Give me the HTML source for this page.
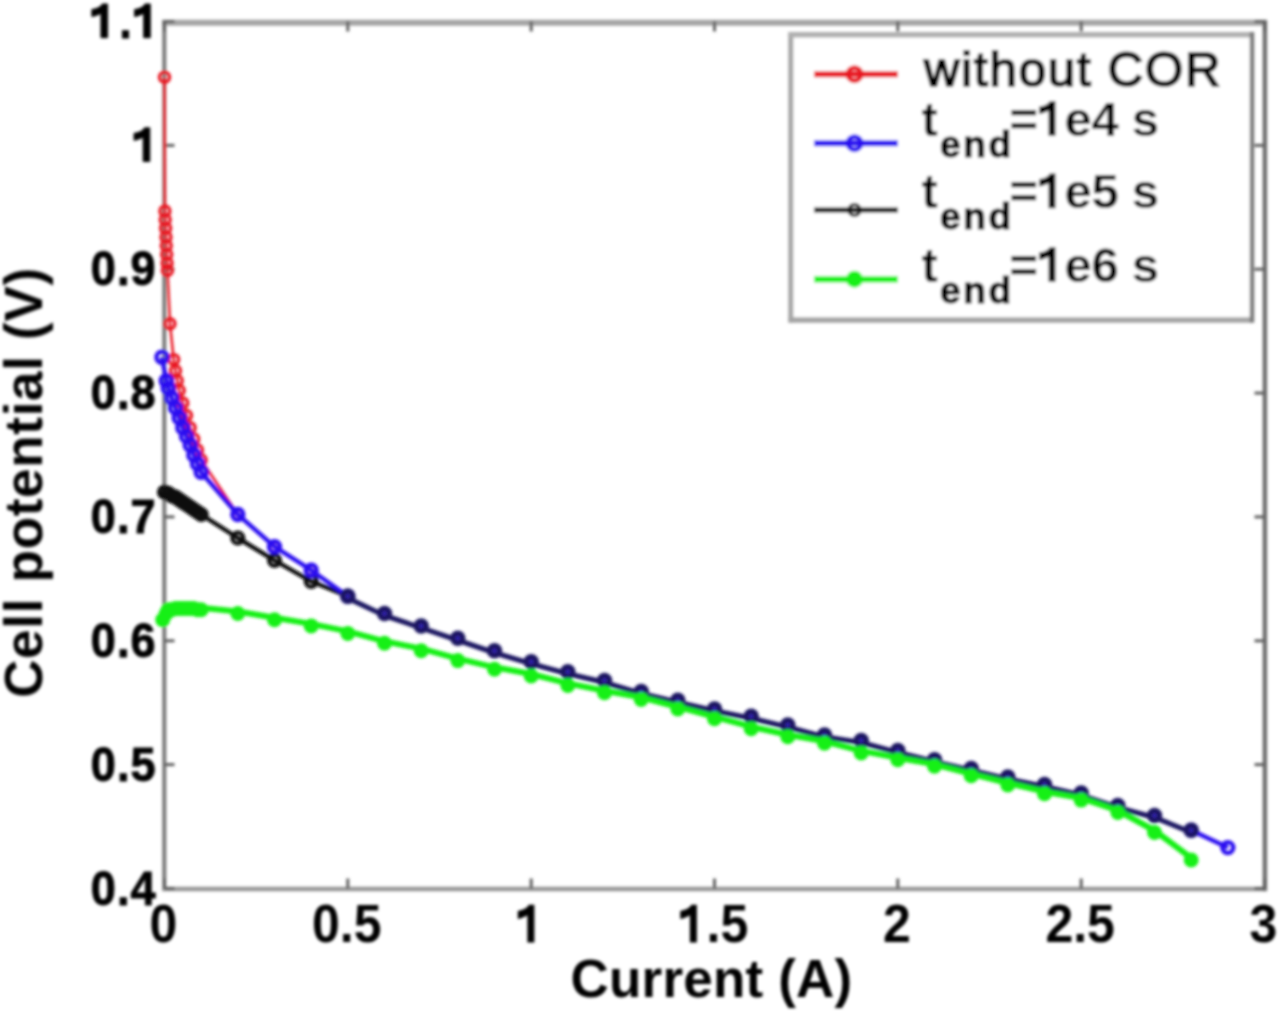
<!DOCTYPE html>
<html><head><meta charset="utf-8"><style>
html,body{margin:0;padding:0;background:#fff;}
body{width:1280px;height:1011px;overflow:hidden;}
svg{display:block;}
</style></head><body>
<svg width="1280" height="1011" viewBox="0 0 1280 1011">
<defs><filter id="bl" x="-5%" y="-5%" width="110%" height="110%"><feGaussianBlur stdDeviation="1.5"/></filter></defs>
<rect width="1280" height="1011" fill="#fff"/>
<g filter="url(#bl)">
<line x1="162" y1="22.8" x2="1267" y2="22.8" stroke="#a4a4a4" stroke-width="6"/>
<line x1="164.3" y1="20" x2="164.3" y2="891" stroke="#787878" stroke-width="4"/>
<line x1="162" y1="889" x2="1267" y2="889" stroke="#989898" stroke-width="4.5"/>
<line x1="1264.9" y1="20" x2="1264.9" y2="891" stroke="#6e6e6e" stroke-width="4.5"/>
<g stroke="#606060" stroke-width="3"><line x1="164.5" y1="888.5" x2="164.5" y2="878.5"/><line x1="164.5" y1="21.5" x2="164.5" y2="31.5"/><line x1="347.8" y1="888.5" x2="347.8" y2="878.5"/><line x1="347.8" y1="21.5" x2="347.8" y2="31.5"/><line x1="531.2" y1="888.5" x2="531.2" y2="878.5"/><line x1="531.2" y1="21.5" x2="531.2" y2="31.5"/><line x1="714.5" y1="888.5" x2="714.5" y2="878.5"/><line x1="714.5" y1="21.5" x2="714.5" y2="31.5"/><line x1="897.8" y1="888.5" x2="897.8" y2="878.5"/><line x1="897.8" y1="21.5" x2="897.8" y2="31.5"/><line x1="1081.2" y1="888.5" x2="1081.2" y2="878.5"/><line x1="1081.2" y1="21.5" x2="1081.2" y2="31.5"/><line x1="1264.5" y1="888.5" x2="1264.5" y2="878.5"/><line x1="1264.5" y1="21.5" x2="1264.5" y2="31.5"/><line x1="164.5" y1="888.5" x2="174.5" y2="888.5"/><line x1="1264.5" y1="888.5" x2="1254.5" y2="888.5"/><line x1="164.5" y1="764.6" x2="174.5" y2="764.6"/><line x1="1264.5" y1="764.6" x2="1254.5" y2="764.6"/><line x1="164.5" y1="640.8" x2="174.5" y2="640.8"/><line x1="1264.5" y1="640.8" x2="1254.5" y2="640.8"/><line x1="164.5" y1="516.9" x2="174.5" y2="516.9"/><line x1="1264.5" y1="516.9" x2="1254.5" y2="516.9"/><line x1="164.5" y1="393.1" x2="174.5" y2="393.1"/><line x1="1264.5" y1="393.1" x2="1254.5" y2="393.1"/><line x1="164.5" y1="269.2" x2="174.5" y2="269.2"/><line x1="1264.5" y1="269.2" x2="1254.5" y2="269.2"/><line x1="164.5" y1="145.4" x2="174.5" y2="145.4"/><line x1="1264.5" y1="145.4" x2="1254.5" y2="145.4"/><line x1="164.5" y1="21.5" x2="174.5" y2="21.5"/><line x1="1264.5" y1="21.5" x2="1254.5" y2="21.5"/></g>
<path d="M164.5 77.2 L164.9 211.0 L165.2 219.7 L165.6 228.3 L166.0 237.0 L166.3 245.7 L166.7 254.4 L167.1 263.0 L167.4 270.5 L170.0 323.7 L173.7 359.6 L175.5 370.8 L177.3 380.7 L179.2 390.6 L182.8 403.0 L186.5 415.4 L190.2 427.8 L193.8 438.9 L197.5 450.0 L201.2 460.0 L237.8 514.5 L274.5 546.7 L311.2 570.2 L347.8 596.2" fill="none" stroke="#e81420" stroke-width="2.6" stroke-linejoin="round"/><g fill="none" stroke="#e81420" stroke-width="3.4"><circle cx="164.5" cy="77.2" r="5"/><circle cx="164.9" cy="211.0" r="5"/><circle cx="165.2" cy="219.7" r="5"/><circle cx="165.6" cy="228.3" r="5"/><circle cx="166.0" cy="237.0" r="5"/><circle cx="166.3" cy="245.7" r="5"/><circle cx="166.7" cy="254.4" r="5"/><circle cx="167.1" cy="263.0" r="5"/><circle cx="167.4" cy="270.5" r="5"/><circle cx="170.0" cy="323.7" r="5"/><circle cx="173.7" cy="359.6" r="5"/><circle cx="175.5" cy="370.8" r="5"/><circle cx="177.3" cy="380.7" r="5"/><circle cx="179.2" cy="390.6" r="5"/><circle cx="182.8" cy="403.0" r="5"/><circle cx="186.5" cy="415.4" r="5"/><circle cx="190.2" cy="427.8" r="5"/><circle cx="193.8" cy="438.9" r="5"/><circle cx="197.5" cy="450.0" r="5"/><circle cx="201.2" cy="460.0" r="5"/><circle cx="237.8" cy="514.5" r="5"/><circle cx="274.5" cy="546.7" r="5"/><circle cx="311.2" cy="570.2" r="5"/><circle cx="347.8" cy="596.2" r="5"/></g><path d="M164.5 492.2 L168.2 493.4 L171.8 495.9 L175.5 497.1 L179.2 499.6 L182.8 502.1 L186.5 504.5 L190.2 507.0 L193.8 509.5 L197.5 512.0 L201.2 514.5 L237.8 538.0 L274.5 560.3 L311.2 581.3 L347.8 596.2" fill="none" stroke="#101010" stroke-width="4.4" stroke-linejoin="round"/><g fill="none" stroke="#101010" stroke-width="4.2"><circle cx="164.5" cy="492.2" r="5.5"/><circle cx="168.2" cy="493.4" r="5.5"/><circle cx="171.8" cy="495.9" r="5.5"/><circle cx="175.5" cy="497.1" r="5.5"/><circle cx="179.2" cy="499.6" r="5.5"/><circle cx="182.8" cy="502.1" r="5.5"/><circle cx="186.5" cy="504.5" r="5.5"/><circle cx="190.2" cy="507.0" r="5.5"/><circle cx="193.8" cy="509.5" r="5.5"/><circle cx="197.5" cy="512.0" r="5.5"/><circle cx="201.2" cy="514.5" r="5.5"/><circle cx="237.8" cy="538.0" r="5.5"/><circle cx="274.5" cy="560.3" r="5.5"/><circle cx="311.2" cy="581.3" r="5.5"/><circle cx="347.8" cy="596.2" r="5.5"/></g><path d="M161.9 357.2 L166.3 380.7 L168.2 388.1 L171.8 398.0 L175.5 407.9 L179.2 417.8 L182.8 427.8 L186.5 436.4 L190.2 445.1 L193.8 455.0 L197.5 463.7 L201.2 472.3 L237.8 514.5 L274.5 546.7 L311.2 570.2 L347.8 596.2" fill="none" stroke="#2a10f0" stroke-width="4.4" stroke-linejoin="round"/><g fill="none" stroke="#2a10f0" stroke-width="4.4"><circle cx="161.9" cy="357.2" r="5.5"/><circle cx="166.3" cy="380.7" r="5.5"/><circle cx="168.2" cy="388.1" r="5.5"/><circle cx="171.8" cy="398.0" r="5.5"/><circle cx="175.5" cy="407.9" r="5.5"/><circle cx="179.2" cy="417.8" r="5.5"/><circle cx="182.8" cy="427.8" r="5.5"/><circle cx="186.5" cy="436.4" r="5.5"/><circle cx="190.2" cy="445.1" r="5.5"/><circle cx="193.8" cy="455.0" r="5.5"/><circle cx="197.5" cy="463.7" r="5.5"/><circle cx="201.2" cy="472.3" r="5.5"/><circle cx="237.8" cy="514.5" r="5.5"/><circle cx="274.5" cy="546.7" r="5.5"/><circle cx="311.2" cy="570.2" r="5.5"/><circle cx="347.8" cy="596.2" r="5.5"/></g><path d="M1191.2 830.3 L1227.8 847.6" fill="none" stroke="#2a10f0" stroke-width="4.4" stroke-linejoin="round"/><g fill="none" stroke="#2a10f0" stroke-width="4.4"><circle cx="1191.2" cy="830.3" r="5.5"/><circle cx="1227.8" cy="847.6" r="5.5"/></g><path d="M347.8 598.2 L384.5 615.5 L421.2 627.9 L457.8 640.3 L494.5 652.7 L531.2 663.8 L567.8 673.8 L604.5 682.4 L641.2 693.6 L677.8 702.2 L714.5 710.9 L751.2 718.3 L787.8 727.0 L824.5 736.9 L861.2 742.5 L897.8 752.4 L934.5 761.7 L971.2 770.4 L1007.8 779.0 L1044.5 786.5 L1081.2 795.1 L1117.8 807.5 L1154.5 817.4 L1191.2 832.3" fill="none" stroke="#1c1462" stroke-width="5.2" stroke-linejoin="round"/><g fill="#3324b0" stroke="#1c1462" stroke-width="5.5"><circle cx="347.8" cy="596.2" r="5"/><circle cx="384.5" cy="613.5" r="5"/><circle cx="421.2" cy="625.9" r="5"/><circle cx="457.8" cy="638.3" r="5"/><circle cx="494.5" cy="650.7" r="5"/><circle cx="531.2" cy="661.8" r="5"/><circle cx="567.8" cy="671.8" r="5"/><circle cx="604.5" cy="680.4" r="5"/><circle cx="641.2" cy="691.6" r="5"/><circle cx="677.8" cy="700.2" r="5"/><circle cx="714.5" cy="708.9" r="5"/><circle cx="751.2" cy="716.3" r="5"/><circle cx="787.8" cy="725.0" r="5"/><circle cx="824.5" cy="734.9" r="5"/><circle cx="861.2" cy="740.5" r="5"/><circle cx="897.8" cy="750.4" r="5"/><circle cx="934.5" cy="759.7" r="5"/><circle cx="971.2" cy="768.4" r="5"/><circle cx="1007.8" cy="777.0" r="5"/><circle cx="1044.5" cy="784.5" r="5"/><circle cx="1081.2" cy="793.1" r="5"/><circle cx="1117.8" cy="805.5" r="5"/><circle cx="1154.5" cy="815.4" r="5"/><circle cx="1191.2" cy="830.3" r="5"/></g><path d="M162.7 617.7 L166.3 611.5 L168.2 607.8 L171.8 607.8 L175.5 606.6 L179.2 606.6 L182.8 606.6 L186.5 606.6 L190.2 606.6 L193.8 606.6 L197.5 607.8 L201.2 607.8 L237.8 611.5 L274.5 617.7 L311.2 623.9 L347.8 631.4 L384.5 641.3 L421.2 648.7 L457.8 658.6 L494.5 667.3 L531.2 674.0 L567.8 683.4 L604.5 690.8 L641.2 697.4 L677.8 706.9 L714.5 716.8 L751.2 726.7 L787.8 734.8 L824.5 741.3 L861.2 750.9 L897.8 757.7 L934.5 764.3 L971.2 773.8 L1007.8 783.0 L1044.5 791.7 L1081.2 798.1 L1117.8 810.5 L1154.5 830.5 L1191.2 858.0" fill="none" stroke="#18f018" stroke-width="6" stroke-linejoin="round"/><g fill="#18f018" stroke="#18f018" stroke-width="4"><circle cx="162.7" cy="619.7" r="5.5"/><circle cx="166.3" cy="613.5" r="5.5"/><circle cx="168.2" cy="609.8" r="5.5"/><circle cx="171.8" cy="609.8" r="5.5"/><circle cx="175.5" cy="608.6" r="5.5"/><circle cx="179.2" cy="608.6" r="5.5"/><circle cx="182.8" cy="608.6" r="5.5"/><circle cx="186.5" cy="608.6" r="5.5"/><circle cx="190.2" cy="608.6" r="5.5"/><circle cx="193.8" cy="608.6" r="5.5"/><circle cx="197.5" cy="609.8" r="5.5"/><circle cx="201.2" cy="609.8" r="5.5"/><circle cx="237.8" cy="613.5" r="5.5"/><circle cx="274.5" cy="619.7" r="5.5"/><circle cx="311.2" cy="625.9" r="5.5"/><circle cx="347.8" cy="633.4" r="5.5"/><circle cx="384.5" cy="643.3" r="5.5"/><circle cx="421.2" cy="650.7" r="5.5"/><circle cx="457.8" cy="660.6" r="5.5"/><circle cx="494.5" cy="669.3" r="5.5"/><circle cx="531.2" cy="676.0" r="5.5"/><circle cx="567.8" cy="685.4" r="5.5"/><circle cx="604.5" cy="692.8" r="5.5"/><circle cx="641.2" cy="699.4" r="5.5"/><circle cx="677.8" cy="708.9" r="5.5"/><circle cx="714.5" cy="718.8" r="5.5"/><circle cx="751.2" cy="728.7" r="5.5"/><circle cx="787.8" cy="736.8" r="5.5"/><circle cx="824.5" cy="743.3" r="5.5"/><circle cx="861.2" cy="752.9" r="5.5"/><circle cx="897.8" cy="759.7" r="5.5"/><circle cx="934.5" cy="766.3" r="5.5"/><circle cx="971.2" cy="775.8" r="5.5"/><circle cx="1007.8" cy="785.0" r="5.5"/><circle cx="1044.5" cy="793.7" r="5.5"/><circle cx="1081.2" cy="800.1" r="5.5"/><circle cx="1117.8" cy="812.5" r="5.5"/><circle cx="1154.5" cy="832.5" r="5.5"/><circle cx="1191.2" cy="860.0" r="5.5"/></g>
<g font-family="Liberation Sans, sans-serif" font-weight="bold" font-size="50" fill="#000"><g transform="translate(0 942.5) scale(1 1.06) translate(0 -942.5)"><text x="149.60" y="942.50" font-size="50" >0</text></g><g transform="translate(0 942.5) scale(1 1.06) translate(0 -942.5)"><text x="312.08" y="942.50" font-size="50" >0</text><text x="339.88" y="942.50" font-size="50" >.</text><text x="353.78" y="942.50" font-size="50" >5</text></g><g transform="translate(0 942.5) scale(1 1.06) translate(0 -942.5)"><path d="M.362 0L.362 .710L.250 .710C.220 .650 .130 .605 .030 .595L.030 .445C.100 .455 .170 .480 .222 .515L.222 0Z" vector-effect="non-scaling-stroke" transform="translate(516.27 942.50) scale(50 -50)"/></g><g transform="translate(0 942.5) scale(1 1.06) translate(0 -942.5)"><path d="M.362 0L.362 .710L.250 .710C.220 .650 .130 .605 .030 .595L.030 .445C.100 .455 .170 .480 .222 .515L.222 0Z" vector-effect="non-scaling-stroke" transform="translate(678.75 942.50) scale(50 -50)"/><text x="706.55" y="942.50" font-size="50" >.</text><text x="720.45" y="942.50" font-size="50" >5</text></g><g transform="translate(0 942.5) scale(1 1.06) translate(0 -942.5)"><text x="882.93" y="942.50" font-size="50" >2</text></g><g transform="translate(0 942.5) scale(1 1.06) translate(0 -942.5)"><text x="1045.42" y="942.50" font-size="50" >2</text><text x="1073.22" y="942.50" font-size="50" >.</text><text x="1087.12" y="942.50" font-size="50" >5</text></g><g transform="translate(0 942.5) scale(1 1.06) translate(0 -942.5)"><text x="1249.60" y="942.50" font-size="50" >3</text></g><g stroke="#000" stroke-width="0.9"><text transform="translate(103.20 904.70) scale(0.95 1)" text-anchor="middle" font-size="47.5" >0</text><text transform="translate(123.20 904.70) scale(0.95 1)" text-anchor="middle" font-size="47.5" >.</text><text transform="translate(143.11 904.70) scale(0.95 1)" text-anchor="middle" font-size="47.5" >4</text></g><g stroke="#000" stroke-width="0.9"><text transform="translate(103.20 780.84) scale(0.95 1)" text-anchor="middle" font-size="47.5" >0</text><text transform="translate(123.20 780.84) scale(0.95 1)" text-anchor="middle" font-size="47.5" >.</text><text transform="translate(143.11 780.84) scale(0.95 1)" text-anchor="middle" font-size="47.5" >5</text></g><g stroke="#000" stroke-width="0.9"><text transform="translate(103.20 656.99) scale(0.95 1)" text-anchor="middle" font-size="47.5" >0</text><text transform="translate(123.20 656.99) scale(0.95 1)" text-anchor="middle" font-size="47.5" >.</text><text transform="translate(143.11 656.99) scale(0.95 1)" text-anchor="middle" font-size="47.5" >6</text></g><g stroke="#000" stroke-width="0.9"><text transform="translate(103.20 533.13) scale(0.95 1)" text-anchor="middle" font-size="47.5" >0</text><text transform="translate(123.20 533.13) scale(0.95 1)" text-anchor="middle" font-size="47.5" >.</text><text transform="translate(143.11 533.13) scale(0.95 1)" text-anchor="middle" font-size="47.5" >7</text></g><g stroke="#000" stroke-width="0.9"><text transform="translate(103.20 409.27) scale(0.95 1)" text-anchor="middle" font-size="47.5" >0</text><text transform="translate(123.20 409.27) scale(0.95 1)" text-anchor="middle" font-size="47.5" >.</text><text transform="translate(143.11 409.27) scale(0.95 1)" text-anchor="middle" font-size="47.5" >8</text></g><g stroke="#000" stroke-width="0.9"><text transform="translate(103.20 285.41) scale(0.95 1)" text-anchor="middle" font-size="47.5" >0</text><text transform="translate(123.20 285.41) scale(0.95 1)" text-anchor="middle" font-size="47.5" >.</text><text transform="translate(143.11 285.41) scale(0.95 1)" text-anchor="middle" font-size="47.5" >9</text></g><g stroke="#000" stroke-width="0.9"><path d="M.362 0L.362 .710L.250 .710C.220 .650 .130 .605 .030 .595L.030 .445C.100 .455 .170 .480 .222 .515L.222 0Z" vector-effect="non-scaling-stroke" transform="translate(132.59 161.56) scale(47.5 -47.5)"/></g><g stroke="#000" stroke-width="0.9"><path d="M.362 0L.362 .710L.250 .710C.220 .650 .130 .605 .030 .595L.030 .445C.100 .455 .170 .480 .222 .515L.222 0Z" vector-effect="non-scaling-stroke" transform="translate(90.40 37.70) scale(47.5 -47.5)"/><text transform="translate(125.48 37.70) scale(0.95 1)" text-anchor="middle" font-size="47.5" >.</text><path d="M.362 0L.362 .710L.250 .710C.220 .650 .130 .605 .030 .595L.030 .445C.100 .455 .170 .480 .222 .515L.222 0Z" vector-effect="non-scaling-stroke" transform="translate(133.12 37.70) scale(47.5 -47.5)"/></g></g>
<text font-family="Liberation Sans, sans-serif" font-weight="bold" font-size="53" fill="#000" x="711.5" y="997" text-anchor="middle" letter-spacing="0.2">Current (A)</text>
<text font-family="Liberation Sans, sans-serif" font-weight="bold" font-size="53" fill="#000" transform="translate(42,482.5) rotate(-90)" text-anchor="middle" letter-spacing="0.7">Cell potential (V)</text>
<rect x="790.8" y="34.8" width="461.2" height="285.2" fill="#fff"/><line x1="790.8" y1="32" x2="790.8" y2="322.5" stroke="#a6a6a6" stroke-width="5"/><line x1="788.5" y1="34.8" x2="1254" y2="34.8" stroke="#b0b0b0" stroke-width="5.5"/><line x1="788.5" y1="320" x2="1254" y2="320" stroke="#a4a4a4" stroke-width="5.5"/><line x1="1252" y1="32" x2="1252" y2="322.5" stroke="#7c7c7c" stroke-width="4.5"/><line x1="814" y1="74.2" x2="898" y2="74.2" stroke="#e81420" stroke-width="6"/><circle cx="854.5" cy="74.2" r="6.5" fill="none" stroke="#e81420" stroke-width="5"/><line x1="814" y1="143.2" x2="898" y2="143.2" stroke="#2a10f0" stroke-width="6"/><circle cx="854.5" cy="143.2" r="6.5" fill="none" stroke="#2a10f0" stroke-width="5"/><line x1="814" y1="210" x2="898" y2="210" stroke="#101010" stroke-width="4.8"/><circle cx="854.5" cy="210" r="5.5" fill="none" stroke="#101010" stroke-width="3.2"/><line x1="814" y1="279.2" x2="898" y2="279.2" stroke="#18f018" stroke-width="6.5"/><circle cx="854.5" cy="279.2" r="7.5" fill="#18f018" stroke="#18f018" stroke-width="2"/><text x="924" y="85.5" font-family="Liberation Sans, sans-serif" font-size="49" stroke="#000" stroke-width="2" lengthAdjust="spacing" textLength="296.5">without COR</text><text x="921.5" y="135.8" font-family="Liberation Sans, sans-serif" font-weight="bold" font-size="49" lengthAdjust="spacing">t</text><text x="940" y="156.8" font-family="Liberation Sans, sans-serif" font-weight="bold" font-size="37" stroke="#000" stroke-width="1.2" lengthAdjust="spacing" textLength="71">end</text><g fill="#000" font-family="Liberation Sans, sans-serif" font-weight="bold"><text x="1009.50" y="135.80" font-size="49" >=</text><path d="M.362 0L.362 .710L.250 .710C.220 .650 .130 .605 .030 .595L.030 .445C.100 .455 .170 .480 .222 .515L.222 0Z" vector-effect="non-scaling-stroke" transform="translate(1037.70 135.80) scale(49 -49)"/><text x="1064.54" y="135.80" font-size="49" >e</text><text x="1091.39" y="135.80" font-size="49" >4</text><text x="1131.65" y="135.80" font-size="49" >s</text></g><text x="921.5" y="208.3" font-family="Liberation Sans, sans-serif" font-weight="bold" font-size="49" lengthAdjust="spacing">t</text><text x="940" y="229.3" font-family="Liberation Sans, sans-serif" font-weight="bold" font-size="37" stroke="#000" stroke-width="1.2" lengthAdjust="spacing" textLength="71">end</text><g fill="#000" font-family="Liberation Sans, sans-serif" font-weight="bold"><text x="1009.50" y="208.30" font-size="49" >=</text><path d="M.362 0L.362 .710L.250 .710C.220 .650 .130 .605 .030 .595L.030 .445C.100 .455 .170 .480 .222 .515L.222 0Z" vector-effect="non-scaling-stroke" transform="translate(1037.70 208.30) scale(49 -49)"/><text x="1064.54" y="208.30" font-size="49" >e</text><text x="1091.39" y="208.30" font-size="49" >5</text><text x="1131.65" y="208.30" font-size="49" >s</text></g><text x="921.5" y="281.7" font-family="Liberation Sans, sans-serif" font-weight="bold" font-size="49" lengthAdjust="spacing">t</text><text x="940" y="302.7" font-family="Liberation Sans, sans-serif" font-weight="bold" font-size="37" stroke="#000" stroke-width="1.2" lengthAdjust="spacing" textLength="71">end</text><g fill="#000" font-family="Liberation Sans, sans-serif" font-weight="bold"><text x="1009.50" y="281.70" font-size="49" >=</text><path d="M.362 0L.362 .710L.250 .710C.220 .650 .130 .605 .030 .595L.030 .445C.100 .455 .170 .480 .222 .515L.222 0Z" vector-effect="non-scaling-stroke" transform="translate(1037.70 281.70) scale(49 -49)"/><text x="1064.54" y="281.70" font-size="49" >e</text><text x="1091.39" y="281.70" font-size="49" >6</text><text x="1131.65" y="281.70" font-size="49" >s</text></g>
</g>
</svg>
</body></html>
